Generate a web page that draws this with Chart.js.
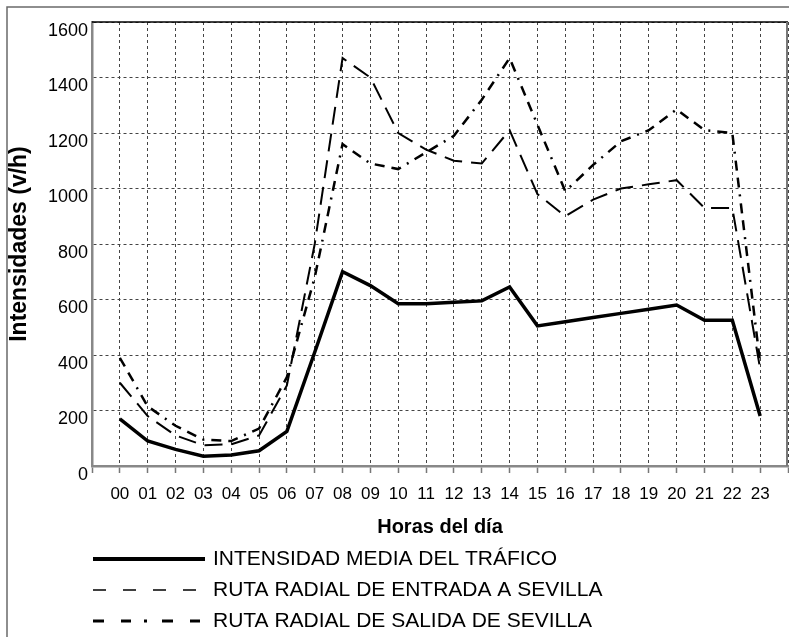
<!DOCTYPE html>
<html>
<head>
<meta charset="utf-8">
<script src="https://cdn.jsdelivr.net/npm/chart.js@4.4.1/dist/chart.umd.min.js"></script>
<style>
  html, body { margin: 0; padding: 0; background: #fff; }
  canvas { display: block; }
</style>
</head>
<body>
<canvas id="chart" width="789" height="637"></canvas>
<script>
/* ---- data ---- */
const HOURS = ['00','01','02','03','04','05','06','07','08','09','10','11',
               '12','13','14','15','16','17','18','19','20','21','22','23'];

const INTENSIDAD_MEDIA = [170, 90, 60, 35, 40, 55, 125, 410, 700, 650, 585, 585,
                          590, 595, 645, 505, 520, 535, 550, 565, 580, 525, 525, 180];

const ENTRADA_SEVILLA = [300, 180, 110, 75, 78, 110, 290, 800, 1470, 1400, 1200, 1140,
                         1100, 1090, 1210, 980, 900, 960, 1000, 1015, 1030, 930, 930, 350];

const SALIDA_SEVILLA = [390, 215, 145, 95, 90, 135, 320, 680, 1160, 1090, 1070, 1130,
                        1190, 1320, 1470, 1230, 990, 1085, 1170, 1210, 1285, 1210, 1200, 370];

const SERIES_NAMES = [
  'INTENSIDAD MEDIA DEL TRÁFICO',
  'RUTA RADIAL DE ENTRADA A SEVILLA',
  'RUTA RADIAL DE SALIDA DE SEVILLA',
];

const Y_MIN = 0, Y_MAX = 1600, Y_STEP = 200;

const FONT = "'Liberation Sans', Arial, sans-serif";

/* ---- styles ---- */
const LINE_STYLES = [
  { width: 3.5, dash: [],                   legendWidth: 4,   legendDash: [] },
  { width: 2,   dash: [18, 9],              legendWidth: 1.5, legendDash: [13, 17] },
  { width: 2.5, dash: [10, 7, 10, 7, 2, 7], legendWidth: 3,   legendDash: [11, 17, 10, 13, 3, 15] },
];

const toPoints = (arr) => arr.map((v, i) => ({ x: i, y: v }));

const datasets = [INTENSIDAD_MEDIA, ENTRADA_SEVILLA, SALIDA_SEVILLA].map((arr, i) => ({
  label: SERIES_NAMES[i],
  data: toPoints(arr),
  borderColor: '#000',
  borderWidth: LINE_STYLES[i].width,
  borderDash: LINE_STYLES[i].dash,
  pointRadius: 0,
  tension: 0,
  fill: false,
}));

/* ---- frame + custom legend ---- */
const framePlugin = {
  id: 'frame',
  beforeDraw(chart) {
    const { ctx, width, height } = chart;
    ctx.save();
    ctx.fillStyle = '#fff';
    ctx.fillRect(0, 0, width, height);
    ctx.strokeStyle = '#6a6a6a';
    ctx.lineWidth = 1.5;
    ctx.beginPath();
    ctx.moveTo(7, height);
    ctx.lineTo(7, 7);
    ctx.lineTo(width, 7);
    ctx.stroke();
    ctx.restore();
  },
  afterDraw(chart) {
    const { ctx, chartArea: a } = chart;
    ctx.save();
    ctx.setLineDash([]);
    ctx.strokeStyle = '#000';
    ctx.lineWidth = 1.5;
    ctx.beginPath();
    ctx.moveTo(a.left, a.top);
    ctx.lineTo(a.right, a.top);
    ctx.stroke();
    ctx.strokeStyle = '#777';
    ctx.lineWidth = 2;
    ctx.beginPath();
    ctx.moveTo(a.right - 1, a.top);
    ctx.lineTo(a.right - 1, a.bottom);
    ctx.stroke();

    // legend, one row per series
    const x0 = a.left + 1, x1 = 205, textX = 213;
    const y0 = chart.scales.x.bottom + 13;
    ctx.font = '21px ' + FONT;
    ctx.fillStyle = '#000';
    ctx.strokeStyle = '#000';
    ctx.textBaseline = 'middle';
    SERIES_NAMES.forEach((name, i) => {
      const y = y0 + i * 31;
      ctx.lineWidth = LINE_STYLES[i].legendWidth;
      ctx.setLineDash(LINE_STYLES[i].legendDash);
      ctx.beginPath();
      ctx.moveTo(x0, y);
      ctx.lineTo(x1, y);
      ctx.stroke();
      ctx.setLineDash([]);
      ctx.fillText(name, textX, y);
    });
    ctx.restore();
  },
};

new Chart(document.getElementById('chart'), {
  type: 'line',
  data: { datasets },
  options: {
    responsive: false,
    animation: false,
    layout: { padding: { left: 0, top: 22, right: 1, bottom: 91 } },
    plugins: { legend: { display: false }, tooltip: { enabled: false } },
    scales: {
      x: {
        type: 'linear',
        min: -1,
        max: 24,
        afterFit: (s) => { s.height = 80; s.paddingLeft = 0; s.paddingRight = 0; },
        ticks: {
          stepSize: 1,
          autoSkip: false,
          maxRotation: 0,
          padding: 11,
          color: '#000',
          font: { family: FONT, size: 17 },
          callback: (v) => HOURS[v] ?? '',
        },
        grid: {
          color: '#444',
          lineWidth: 1,
          drawTicks: true,
          tickLength: 7,
          tickColor: '#777',
          tickWidth: 1.5,
          tickBorderDash: [],
        },
        border: { display: true, color: '#888', width: 2.5, dash: [3, 3] },
        title: {
          display: true,
          text: 'Horas del día',
          color: '#000',
          font: { family: FONT, size: 20, weight: 'bold' },
          padding: { top: 0, bottom: 7 },
        },
      },
      y: {
        min: Y_MIN,
        max: Y_MAX,
        afterFit: (s) => { s.width = 92; },
        ticks: {
          stepSize: Y_STEP,
          padding: 4,
          labelOffset: 9,
          color: '#000',
          font: { family: FONT, size: 18 },
          callback: (v) => String(v),
        },
        grid: { color: '#444', lineWidth: 1, drawTicks: false },
        border: { display: true, color: '#888', width: 2.5, dash: [3, 3] },
        title: {
          display: true,
          text: 'Intensidades (v/h)',
          color: '#000',
          font: { family: FONT, size: 23, weight: 'bold' },
          padding: { top: 6, bottom: 0 },
        },
      },
    },
  },
  plugins: [framePlugin],
});
</script>
</body>
</html>
